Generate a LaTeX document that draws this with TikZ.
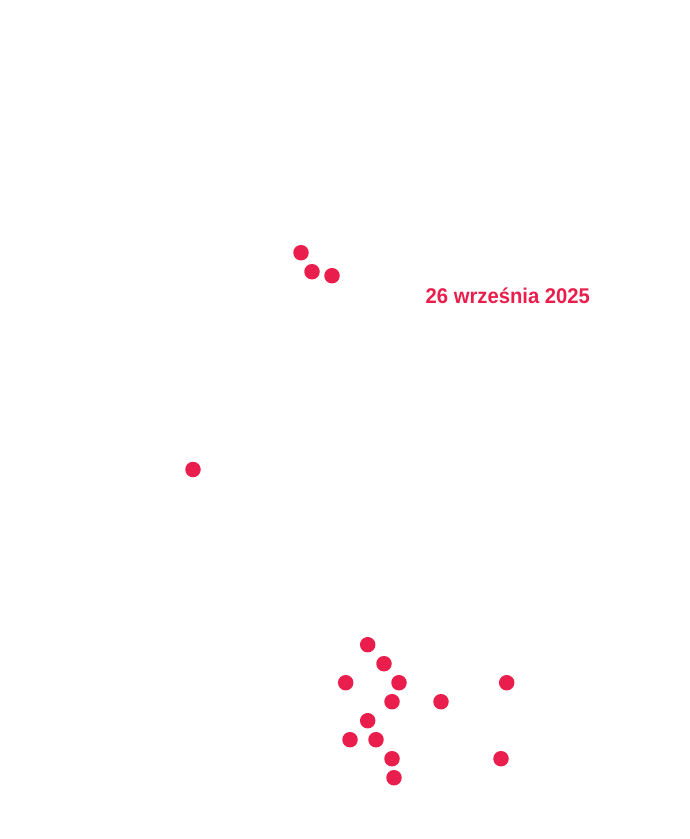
\documentclass[tikz,border=0pt]{standalone}
\usepackage{fontspec}
\newfontfamily\datefont[FakeStretch=0.95]{Liberation Sans}
\definecolor{accent}{HTML}{E91E4C}
\tikzset{
  dot/.style={circle,fill=accent,draw=none,minimum size=15.5pt,inner sep=0pt},
  datelabel/.style={text=accent,font=\datefont\bfseries\fontsize{21.3}{24}\selectfont,inner sep=0pt,anchor=base west}
}
\begin{document}
\begin{tikzpicture}[x=1pt,y=-1pt]
\useasboundingbox (0,0) rectangle (690,839);
\node[dot] (a1) at (301,252.7) {};
\node[dot] (a2) at (312,271.7) {};
\node[dot] (a3) at (332,275.7) {};
\node[dot] (b1) at (193,469.5) {};
\node[dot] (c1) at (367.7,644.7) {};
\node[dot] (c2) at (384,663.7) {};
\node[dot] (c3) at (345.7,682.7) {};
\node[dot] (c4) at (399,682.7) {};
\node[dot] (c5) at (506.7,682.7) {};
\node[dot] (c6) at (392,701.7) {};
\node[dot] (c7) at (441,701.7) {};
\node[dot] (c8) at (367.7,720.7) {};
\node[dot] (c9) at (350,739.7) {};
\node[dot] (c10) at (376,739.7) {};
\node[dot] (c11) at (392,758.7) {};
\node[dot] (c12) at (501,758.7) {};
\node[dot] (c13) at (394,777.7) {};
\node[datelabel] (date) at (425.5,303.2) {26 września 2025};
\end{tikzpicture}
\end{document}
